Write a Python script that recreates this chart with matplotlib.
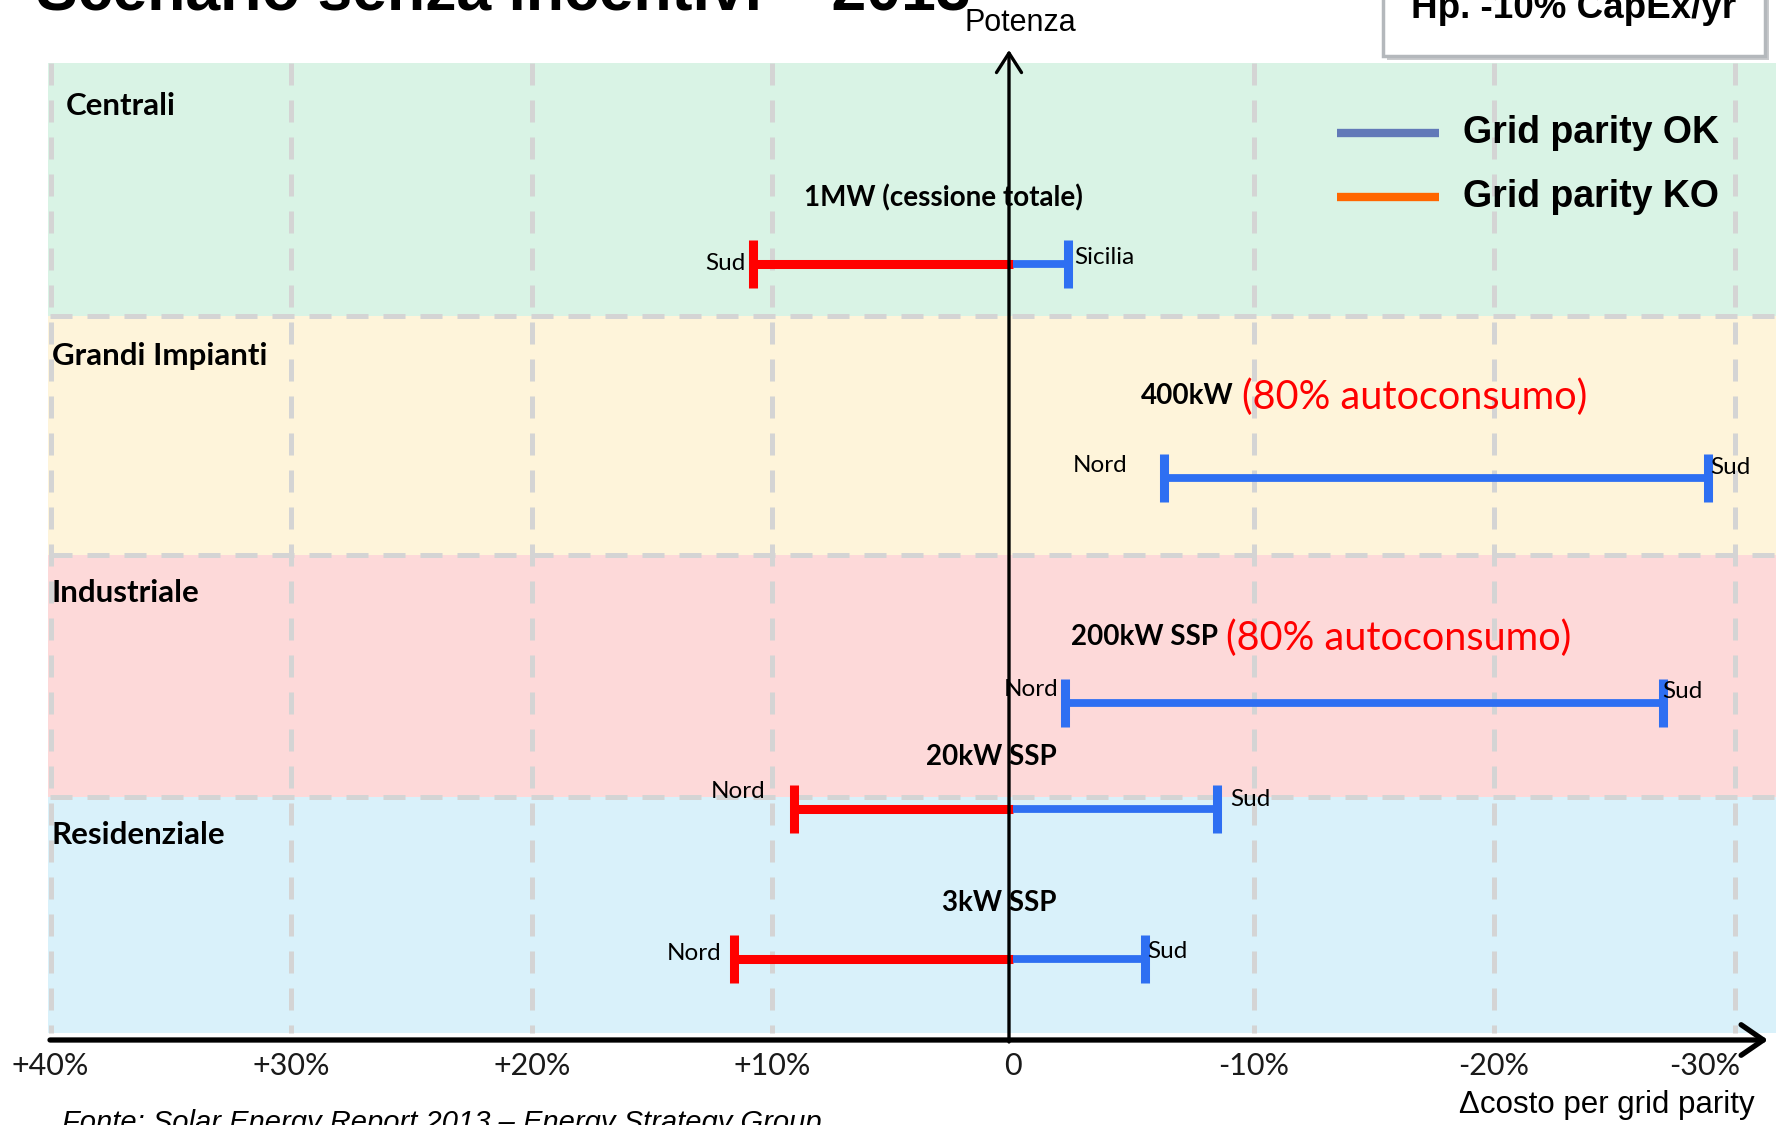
import matplotlib
matplotlib.use("Agg")
import matplotlib.pyplot as plt
from matplotlib.patches import Rectangle

# ---------------- data ----------------
segments = ["Centrali", "Grandi Impianti", "Industriale", "Residenziale"]
plants = ["1MW (cessione totale)", "400kW", "200kW SSP", "20kW SSP", "3kW SSP"]
plant_notes = ["", "(80% autoconsumo)", "(80% autoconsumo)", "", ""]
left_end = [10.8, -6.3, -2.15, 9.1, 11.6]      # Δcosto at the left end (%)
right_end = [-2.3, -28.9, -27.0, -8.5, -5.5]   # Δcosto at the right end (%)
left_region = ["Sud", "Nord", "Nord", "Nord", "Nord"]
right_region = ["Sicilia", "Sud", "Sud", "Sud", "Sud"]
tick_values = [40, 30, 20, 10, 0, -10, -20, -30]
tick_labels = ["+40%", "+30%", "+20%", "+10%", "0", "-10%", "-20%", "-30%"]
legend_labels = ["Grid parity OK", "Grid parity KO"]

# ---------------- layout ----------------
W, H = 1776, 1125
PX0, PXS = 892.6, 24.06          # pixel of the 5% mark, pixels per 1%


def vx(px):
    return 5 - (px - PX0) / PXS


CAL = "Lato"
ARI = "Liberation Sans"
RED = "#FF0000"
BLUE = "#2E6FF2"
GRID = "#D4D4D4"

band_edges = [63, 316, 555, 797, 1033]
band_colors = ["#D9F3E5", "#FEF4DA", "#FDD9D9", "#D9F1FA"]
seg_label_pos = [(66, 115), (52, 365), (52, 602), (52, 844)]
row_y = [264, 478, 703, 809, 959]
plant_label_pos = [(943, 198, "center"), (1141, 396, "left"), (1071, 637, "left"),
                   (991, 757, "center"), (999, 903, "center")]
left_off = [(-8, 0), (-37, 12), (-6, 14), (-29, 18), (-12, 5)]
right_off = [(6, 7), (2, 10), (0, 11), (13, 9), (2, 8)]

fig = plt.figure(figsize=(W / 100, H / 100), dpi=100)
fig.patch.set_facecolor("white")
ax = fig.add_axes([0, 0, 1, 1])
ax.set_xlim(vx(0), vx(W))
ax.set_ylim(H, 0)
ax.axis("off")

# bands
for i in range(len(segments)):
    top, bot = band_edges[i], band_edges[i + 1]
    ax.add_patch(Rectangle((vx(48), top), vx(W) - vx(48), bot - top,
                           facecolor=band_colors[i], edgecolor="none", zorder=0))
    x, y = seg_label_pos[i]
    ax.text(vx(x), y, segments[i], family=CAL, fontweight="bold", fontsize=22.5,
            color="black", ha="left", va="baseline", zorder=5)

# dashed grid
for y in band_edges[1:-1]:
    ax.plot([vx(50), vx(W)], [y, y], color=GRID, lw=3.6, dashes=(4.4, 3), zorder=1)
for v in tick_values:
    if v != 0:
        ax.plot([v, v], [band_edges[0], band_edges[-1]], color=GRID, lw=3.6,
                dashes=(4.4, 3), zorder=1)

# axes arrows
ax.annotate("", xy=(vx(1009), 50), xytext=(vx(1009), 1042),
            arrowprops=dict(arrowstyle="->,head_length=0.7,head_width=0.45",
                            lw=2.4, color="black", mutation_scale=20,
                            shrinkA=0, shrinkB=0), zorder=4)
ax.annotate("", xy=(vx(1768), 1040), xytext=(vx(50), 1040),
            arrowprops=dict(arrowstyle="->,head_length=0.8,head_width=0.55",
                            lw=3.8, color="black", mutation_scale=20,
                            shrinkA=0, shrinkB=0), zorder=4)

# bars
for i in range(len(plants)):
    a, b, y = left_end[i], right_end[i], row_y[i]
    if a > 0:
        ax.plot([a, max(b, 0)], [y, y], color=RED, lw=6.5, solid_capstyle="butt", zorder=3)
    if b < 0:
        ax.plot([min(a, 0), b], [y, y], color=BLUE, lw=5.6, solid_capstyle="butt", zorder=3)
    ax.plot([a, a], [y - 24, y + 24], color=RED if a > 0 else BLUE, lw=6.5,
            solid_capstyle="butt", zorder=3)
    ax.plot([b, b], [y - 24, y + 24], color=BLUE if b < 0 else RED, lw=6.5,
            solid_capstyle="butt", zorder=3)
    ax.annotate(left_region[i], xy=(a, y), xytext=left_off[i], textcoords="offset pixels",
                family=CAL, fontsize=17.5, ha="right", va="center", zorder=5)
    ax.annotate(right_region[i], xy=(b, y), xytext=right_off[i], textcoords="offset pixels",
                family=CAL, fontsize=17.5, ha="left", va="center", zorder=5)
    px, py, ha = plant_label_pos[i]
    t = ax.text(vx(px), py, plants[i], family=CAL, fontweight="bold", fontsize=20,
                ha=ha, va="center", zorder=5)
    if plant_notes[i]:
        ax.annotate(plant_notes[i], xy=(1, 0.45), xycoords=t, xytext=(8, 0),
                    textcoords="offset pixels", family=CAL, fontsize=28.5, color=RED,
                    ha="left", va="center", zorder=5)

# tick labels
for v, lab in zip(tick_values, tick_labels):
    if v == tick_values[-1]:
        ax.text(vx(1740), 1075, lab, family=CAL, fontsize=22, color="#1A1A1A",
                ha="right", va="baseline", zorder=5)
    else:
        ax.text(v, 1075, lab, family=CAL, fontsize=22, color="#1A1A1A",
                ha="center", va="baseline", zorder=5)

# legend
leg_colors = ["#6279B8", "#FF6600"]
leg_y = [133, 197]
for lab, c, y in zip(legend_labels, leg_colors, leg_y):
    ax.plot([vx(1337), vx(1439)], [y, y], color=c, lw=6, solid_capstyle="butt", zorder=5)
    ax.text(vx(1463), y, lab, family=ARI, fontweight="bold", fontsize=27,
            ha="left", va="center", zorder=5)

# axis titles
ax.text(vx(1020), 31, "Potenza", family=ARI, fontsize=22, ha="center", va="baseline")
ax.text(vx(1755), 1113, "\u0394costo per grid parity", family=ARI, fontsize=22.5,
        ha="right", va="baseline")

# box in top right
ax.add_patch(Rectangle((vx(1387), 60), vx(1769) - vx(1387), -80, facecolor="#C8CACC",
                       edgecolor="none", zorder=5))
ax.add_patch(Rectangle((vx(1383), 56), vx(1765) - vx(1383), -80, facecolor="white",
                       edgecolor="#B4B8BC", lw=2.5, zorder=6))
ax.text(vx(1574), 18, "Hp. -10% CapEx/yr", family=ARI, fontweight="bold", fontsize=26.5,
        ha="center", va="baseline", zorder=7)

# title and source
ax.text(vx(36), 10, "Scenario senza incentivi \u2013 2013", family=ARI, fontweight="bold",
        fontsize=45, ha="left", va="baseline")
ax.text(vx(62), 1131, "Fonte: Solar Energy Report 2013 \u2013 Energy Strategy Group",
        family=ARI, style="italic", fontsize=21, ha="left", va="baseline")

fig.savefig("out.png", dpi=100)
